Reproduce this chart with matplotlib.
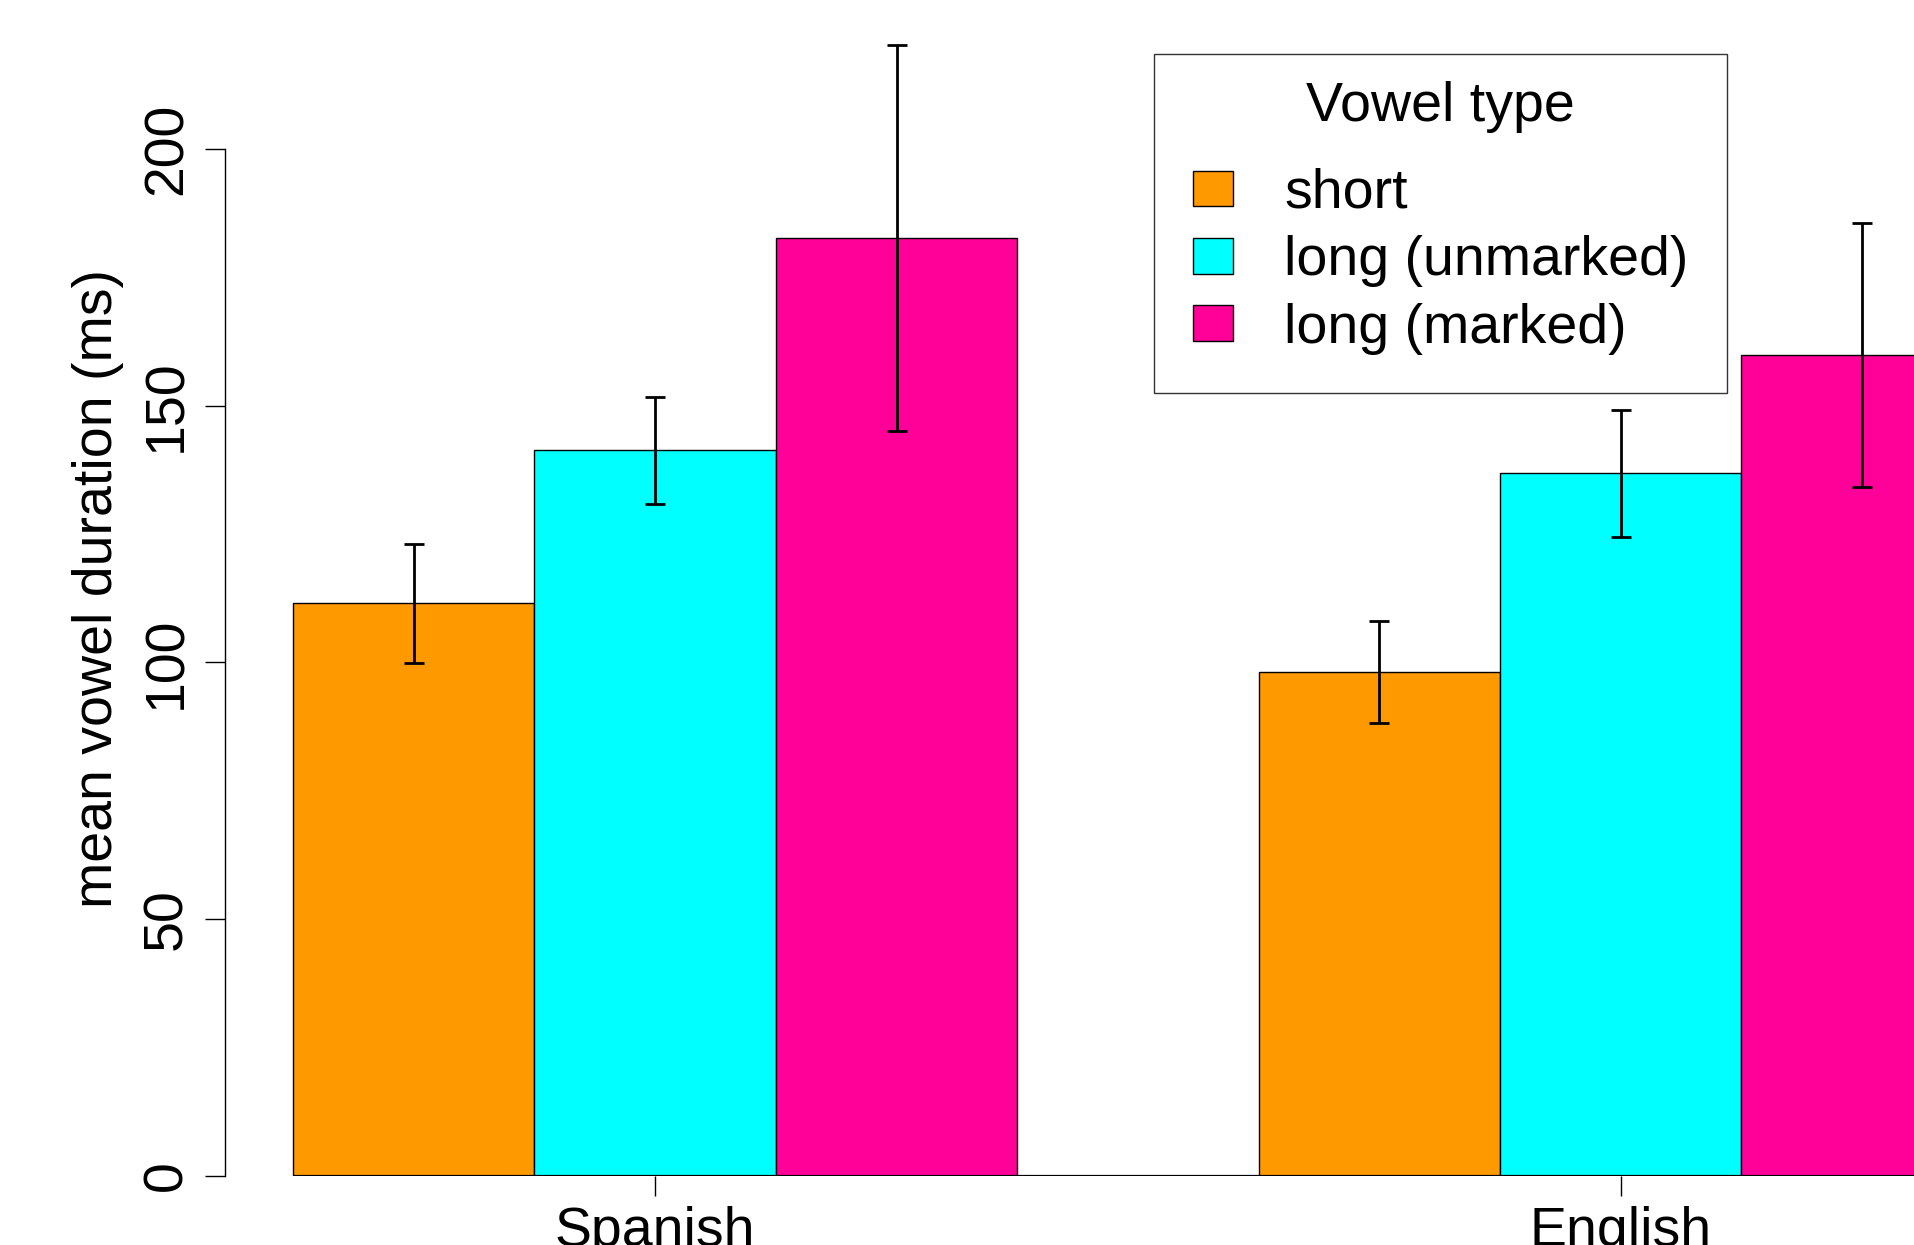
import numpy as np
import matplotlib
matplotlib.use("Agg")
import matplotlib.pyplot as plt

plt.rcParams['font.family'] = ['Liberation Sans', 'DejaVu Sans']

languages = ["Spanish", "English"]
vowel_types = ["short", "long (unmarked)", "long (marked)"]
colors = ["#FF9900", "#00FFFF", "#FF0099"]

# mean durations (ms), rows = language, cols = vowel type
means = np.array([[111.5, 141.3, 182.6],
                  [98.1, 136.8, 159.9]])
errs = np.array([[11.6, 10.4, 37.6],
                 [9.9, 12.4, 25.7]])

W, H = 1915, 1245
fig = plt.figure(figsize=(W / 100, H / 100), dpi=100)
ax = fig.add_axes([224.7 / W, 69 / H, 1 - 224.7 / W, 1 - 69 / H])

# R barplot layout: bar width 1, one bar of space between groups
nb = len(vowel_types)
for i in range(nb):
    lefts = 1 + (nb + 1) * np.arange(len(languages)) + i
    ax.bar(lefts, means[:, i], width=1, align='edge', color=colors[i],
           edgecolor='black', linewidth=1.0, label=vowel_types[i], zorder=2)
    ax.errorbar(lefts + 0.5, means[:, i], yerr=errs[:, i], fmt='none',
                ecolor='black', elinewidth=2.0, capsize=7, capthick=2.0, zorder=3)

centers = 1 + (nb + 1) * np.arange(len(languages)) + nb / 2
ax.set_xlim(0.7167, 7.719)
ax.set_ylim(0, 229.0)
ax.hlines(0, 1, ax.get_xlim()[1], color='black', linewidth=1.6, zorder=4)

ax.set_xticks(centers)
ax.set_xticklabels(languages)
ax.set_yticks([0, 50, 100, 150, 200])
ax.set_yticklabels(["0", "50", "100", "150", "200"], rotation=90, va='center')

for s in ['top', 'right', 'bottom']:
    ax.spines[s].set_visible(False)
ax.spines['left'].set_bounds(0, 200)
ax.spines['left'].set_linewidth(1.0)

ax.tick_params(axis='both', direction='out', length=14.5, width=1.0,
               labelsize=40, pad=8)
ax.tick_params(axis='x', pad=7)

ax.set_ylabel("mean vowel duration (ms)", fontsize=40, va='center')
ax.yaxis.set_label_coords(-0.075, 0.5)

leg = ax.legend(title="Vowel type", fontsize=40, title_fontsize=40,
                loc='upper left', bbox_to_anchor=(1154 / W, 1 - 53.7 / H),
                bbox_transform=fig.transFigure, frameon=True, fancybox=False,
                handlelength=0.72, handleheight=0.61, handletextpad=0.92,
                borderpad=0.7, labelspacing=0.276, borderaxespad=0)
leg.get_frame().set_edgecolor('black')
leg.get_frame().set_linewidth(1.0)
for p in leg.get_patches():
    p.set_edgecolor('black')
# wider gap between the title and the entries, title sits a bit higher
leg._legend_box.sep = 16.8
leg.get_title().set_position((0, 11.5))

fig.savefig("out.png", dpi=100)
